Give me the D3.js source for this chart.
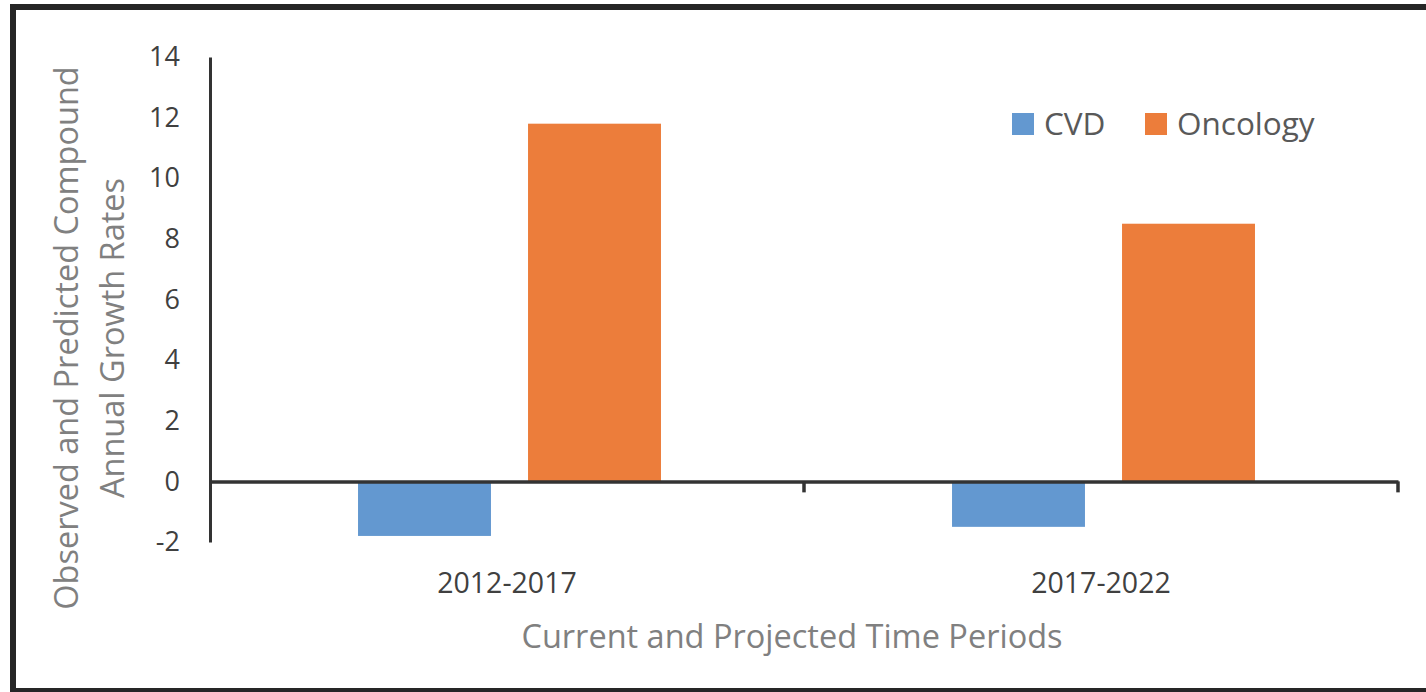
<!DOCTYPE html>
<html>
<head>
<meta charset="utf-8">
<script src="https://cdn.jsdelivr.net/npm/d3@7"></script>
<style>
  html, body { margin: 0; padding: 0; background: #fff; }
  svg { display: block; font-family: "Open Sans", "Noto Sans", sans-serif; }
</style>
</head>
<body>
<svg id="chart" width="1426" height="692"></svg>
<script>
// Time periods on the x axis
const periods = ["2012-2017", "2017-2022"];
// Series names shown in the legend
const seriesNames = ["CVD", "Oncology"];
// Compound annual growth rates (%) per period
const cvdValues = [-1.8, -1.5];
const oncologyValues = [11.8, 8.5];
// Y axis tick values
const yTicks = [-2, 0, 2, 4, 6, 8, 10, 12, 14];

const colors = { "CVD": "#6398d0", "Oncology": "#ec7d3b" };

const svg = d3.select("#chart");
const W = 1426, H = 692;

// outer frame (open on the right)
svg.append("rect")
  .attr("x", 13).attr("y", 7)
  .attr("width", W + 20).attr("height", 684)
  .attr("fill", "none").attr("stroke", "#262626").attr("stroke-width", 6);

const plot = { left: 210, right: 1398, top: 57, bottom: 542 };

const y = d3.scaleLinear().domain([-2, 14]).range([plot.bottom, plot.top]);
const x0 = d3.scaleBand().domain(periods).range([plot.left, plot.right]);
const x1 = d3.scaleBand().domain(seriesNames)
  .range([2.5, x0.bandwidth() + 2.5])
  .paddingInner(0.218).paddingOuter(0.856);

const rows = periods.map((p, i) => ({
  period: p,
  values: [
    { key: "CVD", value: cvdValues[i] },
    { key: "Oncology", value: oncologyValues[i] }
  ]
}));

// bars
const groups = svg.append("g").selectAll("g")
  .data(rows).join("g")
  .attr("transform", d => `translate(${x0(d.period)},0)`);

groups.selectAll("rect")
  .data(d => d.values).join("rect")
  .attr("x", d => x1(d.key))
  .attr("width", x1.bandwidth())
  .attr("y", d => y(Math.max(0, d.value)))
  .attr("height", d => Math.abs(y(d.value) - y(0)))
  .attr("fill", d => colors[d.key]);

// y axis
const yAxis = svg.append("g")
  .attr("transform", `translate(${plot.left},0)`)
  .call(d3.axisLeft(y).tickValues(yTicks).tickSize(0).tickPadding(30).tickFormat(d => String(d)));
yAxis.select(".domain").attr("stroke", "#333").attr("stroke-width", 3);
yAxis.selectAll("text")
  .attr("fill", "#404040").attr("font-size", 27)
  .attr("font-family", "\"Open Sans\", sans-serif");

// x axis at zero
const xAxis = svg.append("g")
  .attr("transform", `translate(0,${y(0)})`)
  .call(d3.axisBottom(x0).tickSize(0).tickFormat(""));
xAxis.select(".domain").attr("stroke", "#333").attr("stroke-width", 3.5);
xAxis.selectAll(".tick").remove();

// tick marks at band boundaries
const boundaries = periods.slice(1).map(p => x0(p)).concat([plot.right]);
xAxis.selectAll("line.bound")
  .data(boundaries).join("line")
  .attr("class", "bound")
  .attr("x1", d => d).attr("x2", d => d)
  .attr("y1", 0).attr("y2", 11)
  .attr("stroke", "#333").attr("stroke-width", 3.5);

// category labels below the plot
svg.append("g").selectAll("text")
  .data(periods).join("text")
  .attr("x", d => x0(d) + x0.bandwidth() / 2)
  .attr("y", 593)
  .attr("text-anchor", "middle")
  .attr("fill", "#404040")
  .attr("font-size", 28.5)
  .text(d => d);

// axis titles
svg.append("text")
  .attr("x", 792)
  .attr("y", 648)
  .attr("text-anchor", "middle")
  .attr("fill", "#808080")
  .attr("font-size", 32.5)
  .text("Current and Projected Time Periods");

const yTitle = svg.append("text")
  .attr("transform", "translate(0,338) rotate(-90)")
  .attr("text-anchor", "middle")
  .attr("fill", "#808080")
  .attr("font-size", 32.5);
yTitle.append("tspan").attr("x", 0).attr("y", 78).text("Observed and Predicted Compound");
yTitle.append("tspan").attr("x", 0).attr("y", 124).text("Annual Growth Rates");

// legend
const legend = svg.append("g").selectAll("g")
  .data(seriesNames).join("g")
  .attr("transform", (d, i) => `translate(${[1012, 1145][i]},113)`);
legend.append("rect")
  .attr("width", 22).attr("height", 22)
  .attr("fill", d => colors[d]);
legend.append("text")
  .attr("x", 32).attr("y", 11)
  .attr("dy", "0.36em")
  .attr("fill", "#595959")
  .attr("font-size", 31.5)
  .text(d => d);
</script>
</body>
</html>
